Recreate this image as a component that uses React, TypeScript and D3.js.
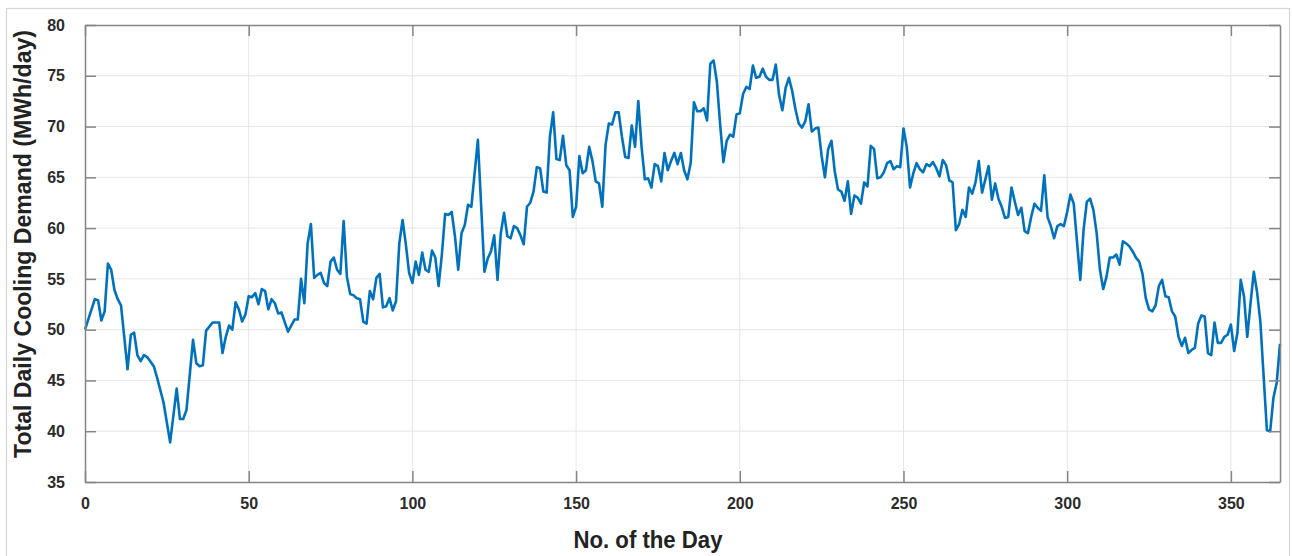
import React, { useEffect, useRef } from 'react';
import * as d3 from 'd3';

// Day numbers (vertices of the trace)
const days: number[] = [
  0, 3, 4, 5, 6, 7, 8, 9, 10, 11, 13, 14, 15, 16, 17, 18, 19, 21, 22, 24,
  26, 28, 29, 30, 31, 33, 34, 35, 36, 37, 39, 40, 41, 42, 43, 44, 45, 46, 47, 48,
  49, 50, 51, 52, 53, 54, 55, 56, 57, 58, 59, 60, 62, 64, 65, 66, 67, 68, 69, 70,
  71, 72, 73, 74, 75, 76, 77, 78, 79, 80, 81, 82, 83, 84, 85, 86, 87, 88, 89, 90,
  91, 92, 93, 94, 95, 96, 97, 98, 99, 100, 101, 102, 103, 104, 105, 106, 107, 108, 109, 110,
  111, 112, 113, 114, 115, 116, 117, 118, 120, 122, 123, 124, 125, 126, 127, 128, 129, 130, 131, 132,
  133, 134, 135, 136, 137, 138, 139, 140, 141, 142, 143, 144, 145, 146, 147, 148, 149, 150, 151, 152,
  153, 154, 155, 156, 157, 158, 159, 160, 161, 162, 163, 164, 165, 166, 167, 168, 169, 170, 171, 172,
  173, 174, 175, 176, 177, 178, 179, 180, 181, 182, 183, 184, 185, 186, 187, 188, 189, 190, 191, 192,
  193, 194, 195, 196, 197, 198, 199, 200, 201, 202, 203, 204, 205, 206, 207, 208, 209, 210, 211, 212,
  213, 214, 215, 216, 217, 218, 219, 220, 221, 222, 223, 224, 225, 226, 227, 228, 229, 230, 231, 232,
  233, 234, 235, 236, 237, 238, 239, 240, 241, 242, 243, 244, 245, 246, 247, 248, 249, 250, 251, 252,
  253, 254, 255, 256, 257, 258, 259, 260, 261, 262, 263, 264, 265, 266, 267, 268, 269, 270, 271, 272,
  273, 274, 275, 276, 277, 278, 279, 280, 281, 282, 283, 284, 285, 286, 287, 288, 289, 290, 291, 292,
  293, 294, 295, 296, 297, 298, 299, 300, 301, 302, 304, 305, 306, 307, 308, 309, 310, 311, 312, 313,
  314, 315, 316, 317, 318, 319, 320, 321, 322, 323, 324, 325, 326, 327, 328, 329, 330, 331, 332, 333,
  334, 335, 336, 337, 338, 339, 340, 341, 342, 343, 344, 345, 346, 347, 348, 349, 350, 351, 352, 353,
  354, 355, 356, 357, 358, 359, 360, 361, 362, 363, 364, 365,
];

// Total daily cooling demand, MWh/day
const demand: number[] = [
  50.0, 53.0, 52.9, 50.9, 51.8, 56.5, 55.9, 53.9, 53.0, 52.4, 46.1, 49.5, 49.7, 47.5, 46.9, 47.5, 47.3, 46.4, 45.3, 42.8,
  38.9, 44.2, 41.2, 41.2, 42.1, 49.0, 46.7, 46.4, 46.5, 49.9, 50.7, 50.7, 50.7, 47.7, 49.3, 50.4, 50.0, 52.7, 52.0, 50.8,
  51.5, 53.3, 53.2, 53.6, 52.5, 54.0, 53.8, 52.0, 53.0, 52.6, 51.6, 51.7, 49.8, 51.0, 51.0, 55.0, 52.6, 58.5, 60.4, 55.1,
  55.4, 55.6, 54.6, 54.3, 56.7, 57.1, 55.9, 55.5, 60.7, 55.2, 53.5, 53.4, 53.1, 53.0, 50.8, 50.6, 53.8, 53.0, 55.1, 55.5,
  52.2, 52.3, 53.1, 51.9, 52.8, 58.5, 60.8, 58.4, 55.6, 54.6, 56.7, 55.4, 57.6, 55.9, 55.7, 57.8, 57.1, 54.3, 57.4, 61.4,
  61.3, 61.6, 59.2, 55.9, 59.5, 60.3, 62.3, 62.1, 68.7, 55.7, 57.0, 57.7, 59.3, 54.9, 59.5, 61.5, 59.2, 59.0, 60.2, 60.0,
  59.3, 58.4, 62.1, 62.5, 63.6, 66.0, 65.9, 63.6, 63.5, 69.0, 71.4, 66.8, 66.7, 69.1, 66.2, 65.7, 61.1, 62.1, 67.1, 65.4,
  65.7, 68.0, 66.6, 64.6, 64.4, 62.1, 68.2, 70.3, 70.2, 71.4, 71.4, 69.0, 67.0, 66.9, 70.1, 68.0, 72.5, 68.0, 64.8, 64.9,
  64.0, 66.3, 66.1, 64.6, 67.4, 65.7, 66.6, 67.4, 66.3, 67.4, 65.7, 64.8, 66.4, 72.4, 71.5, 71.5, 71.8, 70.6, 76.2, 76.5,
  74.4, 70.2, 66.5, 68.6, 69.2, 69.0, 71.2, 71.3, 73.2, 73.9, 73.7, 76.0, 74.8, 74.9, 75.7, 74.9, 74.6, 74.6, 76.1, 73.1,
  71.6, 73.8, 74.8, 73.5, 71.7, 70.3, 69.9, 70.5, 72.2, 69.5, 69.8, 69.9, 67.1, 65.0, 67.8, 68.6, 65.6, 63.8, 63.6, 62.7,
  64.6, 61.4, 63.2, 63.0, 62.4, 64.5, 64.1, 68.1, 67.8, 64.9, 65.0, 65.5, 66.4, 66.6, 65.8, 66.1, 66.0, 69.8, 68.0, 64.0,
  65.4, 66.4, 65.8, 65.5, 66.3, 66.1, 66.5, 65.9, 65.1, 66.7, 66.2, 64.7, 64.5, 59.8, 60.4, 61.8, 61.1, 64.0, 63.4, 64.5,
  66.6, 63.5, 64.8, 66.1, 62.8, 64.4, 62.9, 62.1, 61.0, 61.1, 64.0, 62.6, 61.3, 62.0, 59.7, 59.5, 61.1, 62.4, 62.0, 61.7,
  65.2, 61.1, 60.2, 59.0, 60.2, 60.4, 60.2, 61.6, 63.3, 62.4, 54.9, 59.8, 62.6, 62.9, 61.8, 59.5, 55.9, 54.0, 55.2, 57.1,
  57.1, 57.4, 56.4, 58.7, 58.5, 58.2, 57.7, 57.1, 56.7, 55.5, 53.1, 52.0, 51.8, 52.4, 54.3, 54.9, 53.3, 53.2, 51.8, 51.3,
  49.3, 48.4, 49.2, 47.7, 48.0, 48.2, 50.6, 51.4, 51.3, 47.7, 47.5, 50.7, 48.7, 48.7, 49.3, 49.5, 50.5, 47.9, 49.7, 54.9,
  53.3, 49.3, 52.6, 55.7, 53.7, 50.8, 45.4, 40.1, 40.0, 43.3, 44.8, 48.6,
];

const xTicks: number[] = [0, 50, 100, 150, 200, 250, 300, 350];
const yTicks: number[] = [35, 40, 45, 50, 55, 60, 65, 70, 75, 80];

const App: React.FC = () => {
  const svgRef = useRef<SVGSVGElement>(null);
  const width = 1292;
  const height = 556;
  const margin = { top: 25, right: 12, bottom: 74, left: 85 };

  useEffect(() => {
    const svg = d3.select(svgRef.current);
    svg.selectAll('*').remove();

    const innerWidth = width - margin.left - margin.right;
    const innerHeight = height - margin.top - margin.bottom;

    const xScale = d3.scaleLinear().domain([0, 365]).range([0, innerWidth]);
    const yScale = d3.scaleLinear().domain([35, 80]).range([innerHeight, 0]);

    // outer figure border
    svg.append('rect')
      .attr('x', 6.5)
      .attr('y', 8.5)
      .attr('width', 1283)
      .attr('height', 600)
      .attr('fill', '#fff')
      .attr('stroke', '#d6d6d6')
      .attr('stroke-width', 1.2);

    const g = svg.append('g')
      .attr('transform', `translate(${margin.left},${margin.top})`);

    // grid
    g.selectAll('.grid-h')
      .data(yTicks.slice(1, -1))
      .enter()
      .append('line')
      .attr('x1', 0)
      .attr('x2', innerWidth)
      .attr('y1', d => yScale(d))
      .attr('y2', d => yScale(d))
      .style('stroke', '#e6e6e6')
      .style('stroke-width', '1px');

    g.selectAll('.grid-v')
      .data(xTicks.slice(1))
      .enter()
      .append('line')
      .attr('x1', d => xScale(d))
      .attr('x2', d => xScale(d))
      .attr('y1', 0)
      .attr('y2', innerHeight)
      .style('stroke', '#e6e6e6')
      .style('stroke-width', '1px');

    // the trace
    const points = days.map((d, i) => [d, demand[i]] as [number, number]);
    const line = d3.line<[number, number]>()
      .x(d => xScale(d[0]))
      .y(d => yScale(d[1]));

    g.append('path')
      .datum(points)
      .attr('fill', 'none')
      .attr('stroke', '#0072BD')
      .attr('stroke-width', 2.6)
      .attr('stroke-linejoin', 'round')
      .attr('d', line);

    // axes (inward ticks, box all round)
    const axisColor = '#858585';
    const tickLen = 11;

    const styleAxis = (sel: d3.Selection<SVGGElement, unknown, null, undefined>) => {
      sel.select('.domain').attr('stroke', axisColor).attr('stroke-width', 1.5);
      sel.selectAll('.tick line').attr('stroke', axisColor).attr('stroke-width', 1.5);
      sel.selectAll('.tick text')
        .style('font-family', '"Liberation Sans", Arial, sans-serif')
        .style('font-weight', 'bold')
        .style('font-size', '16px')
        .style('fill', '#2b2b2b');
    };

    const xAxis = g.append('g')
      .attr('transform', `translate(0,${innerHeight})`)
      .call(d3.axisBottom(xScale).tickValues(xTicks).tickSizeInner(-tickLen).tickSizeOuter(0).tickPadding(16));
    styleAxis(xAxis);

    const xAxisTop = g.append('g')
      .call(d3.axisTop(xScale).tickValues(xTicks).tickSizeInner(-tickLen).tickSizeOuter(0).tickFormat(() => ''));
    styleAxis(xAxisTop);

    const yAxis = g.append('g')
      .call(d3.axisLeft(yScale).tickValues(yTicks).tickSizeInner(-tickLen).tickSizeOuter(0).tickPadding(20));
    styleAxis(yAxis);

    const yAxisRight = g.append('g')
      .attr('transform', `translate(${innerWidth},0)`)
      .call(d3.axisRight(yScale).tickValues(yTicks).tickSizeInner(-tickLen).tickSizeOuter(0).tickFormat(() => ''));
    styleAxis(yAxisRight);

    // axis labels
    svg.append('text')
      .attr('x', 648)
      .attr('y', 548)
      .attr('text-anchor', 'middle')
      .attr('textLength', 149)
      .attr('lengthAdjust', 'spacingAndGlyphs')
      .style('font-family', '"Liberation Sans", Arial, sans-serif')
      .style('font-weight', 'bold')
      .style('font-size', '24px')
      .style('fill', '#222')
      .text('No. of the Day');

    svg.append('text')
      .attr('transform', 'rotate(-90)')
      .attr('x', -244)
      .attr('y', 31)
      .attr('text-anchor', 'middle')
      .attr('textLength', 428)
      .attr('lengthAdjust', 'spacingAndGlyphs')
      .style('font-family', '"Liberation Sans", Arial, sans-serif')
      .style('font-weight', 'bold')
      .style('font-size', '24px')
      .style('fill', '#222')
      .text('Total Daily Cooling Demand (MWh/day)');
  }, []);

  return (
    <div style={{ position: 'absolute', left: 0, top: 0, width, height, overflow: 'hidden', background: '#fff' }}>
      <svg ref={svgRef} width={width} height={height} />
    </div>
  );
};

export default App;
